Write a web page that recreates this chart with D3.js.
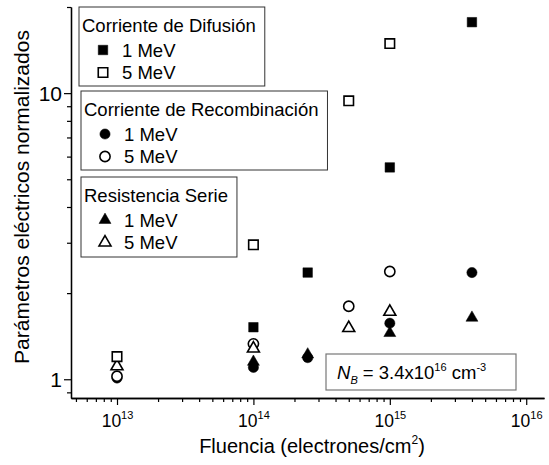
<!DOCTYPE html>
<html>
<head>
<meta charset="utf-8">
<script src="https://cdn.jsdelivr.net/npm/d3@7"></script>
<style>
  body { margin: 0; background: #fff; }
  svg { font-family: "Liberation Sans", Arial, sans-serif; }
</style>
</head>
<body>
<div id="chart"></div>
<script>
// fluence (electrons/cm2) and normalized value
const difusion1 = [[1e14, 1.52], [2.5e14, 2.36], [1e15, 5.5], [4e15, 17.7]];
const difusion5 = [[1e13, 1.2], [1e14, 2.95], [5e14, 9.4], [1e15, 14.9]];
const recomb1 = [[1e13, 1.01], [1e14, 1.10], [2.5e14, 1.19], [1e15, 1.57], [4e15, 2.36]];
const recomb5 = [[1e13, 1.025], [1e14, 1.33], [5e14, 1.8], [1e15, 2.38]];
const serie1 = [[1e14, 1.15], [2.5e14, 1.22], [1e15, 1.45], [4e15, 1.64]];
const serie5 = [[1e13, 1.11], [1e14, 1.28], [5e14, 1.51], [1e15, 1.72]];

const groupTitles = ["Corriente de Difusión", "Corriente de Recombinación", "Resistencia Serie"];
const energyLabels = ["1 MeV", "5 MeV"];
const xMajor = [1e13, 1e14, 1e15, 1e16];
const xExp = ["13", "14", "15", "16"];
const yMajor = [1, 10];

const W = 549, H = 465;
const m = {left: 71, top: 7, right: 5, bottom: 67};
const iw = W - m.left - m.right, ih = H - m.top - m.bottom;

const svg = d3.select("#chart").append("svg").attr("width", W).attr("height", H);
const g = svg.append("g").attr("transform", `translate(${m.left},${m.top})`);

const x = d3.scaleLog().domain([4.6e12, 1.35e16]).range([0, iw]);
const y = d3.scaleLog().domain([0.86, 20]).range([ih, 0]);

// minor ticks
const xMinor = [];
for (let e = 12; e <= 16; e++) for (let k = 2; k <= 9; k++) {
  const v = k * Math.pow(10, e);
  if (v >= x.domain()[0] && v <= x.domain()[1]) xMinor.push(v);
}
const yMinor = [];
for (let e = -1; e <= 1; e++) for (let k = 2; k <= 9; k++) {
  const v = k * Math.pow(10, e);
  if (v >= y.domain()[0] && v <= y.domain()[1]) yMinor.push(v);
}

function styleAxis(sel) {
  sel.select(".domain").attr("stroke", "#000").attr("stroke-width", 1.3);
  sel.selectAll(".tick line").attr("stroke", "#000").attr("stroke-width", 1.2);
}

g.append("g").attr("transform", `translate(0,${ih})`)
  .call(d3.axisBottom(x).tickValues(xMinor).tickSize(4).tickFormat("").tickSizeOuter(0))
  .call(styleAxis);
const xAx = g.append("g").attr("transform", `translate(0,${ih})`)
  .call(d3.axisBottom(x).tickValues(xMajor).tickSize(7).tickFormat("").tickSizeOuter(0))
  .call(styleAxis);
xAx.selectAll(".tick").append("text")
  .attr("y", 29).attr("fill", "#000").attr("font-size", 17.5).attr("text-anchor", "middle")
  .each(function(d, i) {
    const t = d3.select(this);
    t.append("tspan").text("10");
    t.append("tspan").attr("dy", -8).attr("font-size", 11).text(xExp[i]);
  });

g.append("g")
  .call(d3.axisLeft(y).tickValues(yMinor).tickSize(4).tickFormat("").tickSizeOuter(0))
  .call(styleAxis);
const yAx = g.append("g")
  .call(d3.axisLeft(y).tickValues(yMajor).tickSize(7).tickFormat(d3.format("d")).tickSizeOuter(0))
  .call(styleAxis);
yAx.selectAll(".tick text").attr("font-size", 21).attr("fill", "#000").attr("x", -9).attr("dy", "0.35em");

// axis titles
const xt = svg.append("text").attr("x", 312).attr("y", 453).attr("text-anchor", "middle")
  .attr("font-size", 20).attr("fill", "#000");
xt.append("tspan").text("Fluencia (electrones/cm");
xt.append("tspan").attr("dy", -9).attr("font-size", 12).text("2");
xt.append("tspan").attr("dy", 9).text(")");

svg.append("text").attr("transform", "translate(29,197) rotate(-90)")
  .attr("text-anchor", "middle").attr("font-size", 21).attr("fill", "#000")
  .text("Parámetros eléctricos normalizados");

// markers
const sym = {
  square: d3.symbol().type(d3.symbolSquare).size(90),
  circle: d3.symbol().type(d3.symbolCircle).size(82),
  triangle: d3.symbol().type(d3.symbolTriangle).size(62)
};
const series = [
  {data: recomb1, shape: "circle", filled: true},
  {data: recomb5, shape: "circle", filled: false},
  {data: serie1, shape: "triangle", filled: true},
  {data: serie5, shape: "triangle", filled: false},
  {data: difusion1, shape: "square", filled: true},
  {data: difusion5, shape: "square", filled: false}
];
function styleMarker(sel, s) {
  sel.attr("d", sym[s.shape])
    .attr("fill", s.filled ? "#000" : "#fff")
    .attr("stroke", "#000")
    .attr("stroke-width", s.filled ? 0.5 : 1.6);
}

// legend boxes
const legendBoxes = [
  {x: 79, y: 7, h: 79, shape: "square"},
  {x: 81, y: 91, h: 79, shape: "circle"},
  {x: 81, y: 177, h: 80, shape: "triangle"}
];
legendBoxes.forEach((b, i) => {
  const lg = svg.append("g");
  const rect = lg.append("rect").attr("x", b.x).attr("y", b.y).attr("height", b.h)
    .attr("fill", "#fff").attr("stroke", "#333").attr("stroke-width", 1);
  const title = lg.append("text").attr("x", b.x + 3).attr("y", b.y + 25)
    .attr("font-size", 18.5).attr("fill", "#000").text(groupTitles[i]);
  rect.attr("width", title.node().getComputedTextLength() + 12);
  energyLabels.forEach((lab, j) => {
    const yy = b.y + 43 + j * 22.5;
    lg.append("path").attr("transform", `translate(${b.x + 24},${yy})`)
      .call(styleMarker, {shape: b.shape, filled: j === 0});
    lg.append("text").attr("x", b.x + 43).attr("y", yy + 6.5)
      .attr("font-size", 18.5).attr("fill", "#000").text(lab);
  });
});

// annotation
svg.append("rect").attr("x", 326).attr("y", 354).attr("width", 190).attr("height", 36)
  .attr("fill", "#fff").attr("stroke", "#777").attr("stroke-width", 1.2);
const nt = svg.append("text").attr("x", 337).attr("y", 379).attr("font-size", 18.5).attr("fill", "#000");
nt.append("tspan").attr("font-style", "italic").text("N");
nt.append("tspan").attr("dy", 5).attr("font-size", 11).attr("font-style", "italic").text("B");
nt.append("tspan").attr("dy", -5).text(" = 3.4x10");
nt.append("tspan").attr("dy", -8).attr("font-size", 11).text("16");
nt.append("tspan").attr("dy", 8).text(" cm");
nt.append("tspan").attr("dy", -8).attr("font-size", 11).text("-3");

// data points
series.forEach(s => {
  g.append("g").selectAll("path").data(s.data).enter().append("path")
    .attr("transform", d => `translate(${x(d[0])},${y(d[1])})`)
    .call(styleMarker, s);
});
</script>
</body>
</html>
